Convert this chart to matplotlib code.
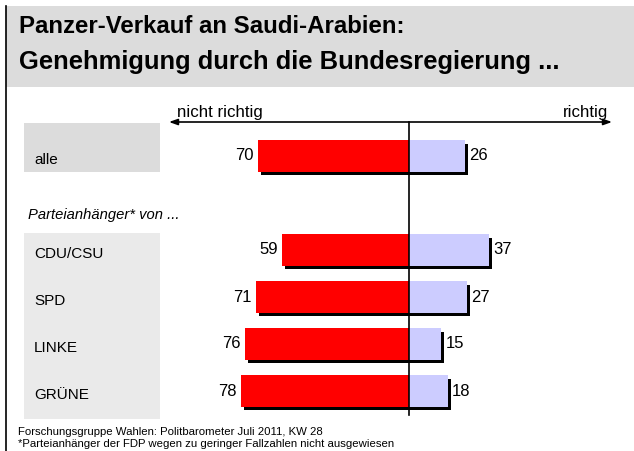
import matplotlib
matplotlib.use("Agg")
import matplotlib.pyplot as plt
import matplotlib.patheffects as pe
import matplotlib.transforms as mtransforms
from matplotlib.patches import Rectangle
from matplotlib.lines import Line2D

# ---- data ----
categories = ["alle", "CDU/CSU", "SPD", "LINKE", "GRÜNE"]
nicht_richtig = [70, 59, 71, 76, 78]
richtig = [26, 37, 27, 15, 18]
row_pos = [0, 2, 3, 4, 5]

title_lines = ["Panzer-Verkauf an Saudi-Arabien:",
               "Genehmigung durch die Bundesregierung ..."]
left_label = "nicht richtig"
right_label = "richtig"
group_label = "Parteianhänger* von ..."
footer_lines = ["Forschungsgruppe Wahlen: Politbarometer Juli 2011, KW 28",
                "*Parteianhänger der FDP wegen zu geringer Fallzahlen nicht ausgewiesen"]

plt.rcParams['font.family'] = ['Liberation Sans', 'DejaVu Sans']

W, H = 634, 451
fig = plt.figure(figsize=(W / 100, H / 100), dpi=100)
fig.patch.set_facecolor("white")


def fx(px):
    return px / W


def fy(py):
    return 1 - py / H


# header
fig.patches.append(Rectangle((fx(6), fy(87)), 1 - fx(6), fy(6) - fy(87),
                             transform=fig.transFigure, facecolor="#DCDCDC",
                             edgecolor="none", zorder=-1))
# left border
fig.lines.append(Line2D([fx(6), fx(6)], [fy(6), 0], transform=fig.transFigure,
                        color="black", lw=1.2))
fig.text(fx(19), fy(33), title_lines[0], fontsize=17.3, fontweight="bold",
         va="baseline", ha="left")
fig.text(fx(19), fy(69), title_lines[1], fontsize=18.4, fontweight="bold",
         va="baseline", ha="left")

# label boxes
fig.patches.append(Rectangle((fx(24), fy(172)), fx(160) - fx(24), fy(123) - fy(172),
                             transform=fig.transFigure, facecolor="#DCDCDC",
                             edgecolor="none", zorder=-1))
fig.patches.append(Rectangle((fx(24), fy(419)), fx(160) - fx(24), fy(233) - fy(419),
                             transform=fig.transFigure, facecolor="#EAEAEA",
                             edgecolor="none", zorder=-1))
fig.text(fx(28), fy(219), group_label, fontsize=10.6, style="italic",
         va="baseline", ha="left")

# axes
ax_left, ax_right, ax_top, ax_bottom = 169, 612, 122, 415
center_px = 409
scale = 2.157
xmin = -(center_px - ax_left) / scale
xmax = (ax_right - center_px) / scale
row0 = 156
step = 47
ytop = (ax_top - row0) / step
ybot = (ax_bottom - row0) / step

ax = fig.add_axes([fx(ax_left), fy(ax_bottom), fx(ax_right) - fx(ax_left),
                   fy(ax_top) - fy(ax_bottom)])
ax.set_xlim(xmin, xmax)
ax.set_ylim(ybot, ytop)
ax.axis("off")
ax.patch.set_alpha(0)

shadow = [pe.SimplePatchShadow(offset=(2.2, -2.2), shadow_rgbFace="black", alpha=1.0),
          pe.Normal()]
bh = 0.66
for y, nv, rv in zip(row_pos, nicht_richtig, richtig):
    b1 = ax.barh(y, -nv, height=bh, color="#FF0000", edgecolor="none", zorder=2)
    for p in b1:
        p.set_path_effects(shadow)
    b2 = ax.barh(y, rv, height=bh, color="#CCCCFF", edgecolor="none", zorder=3)
    for p in b2:
        p.set_path_effects(shadow)
    ax.annotate(str(nv), (-nv, y), xytext=(-3, 0), textcoords="offset points",
                ha="right", va="center", fontsize=12)
    ax.annotate(str(rv), (rv, y), xytext=(3, 0), textcoords="offset points",
                ha="left", va="center", fontsize=12)

label_tr = mtransforms.blended_transform_factory(fig.transFigure, ax.transData)
for y, c in zip(row_pos, categories):
    ax.text(fx(34), y + 0.08, c, transform=label_tr, ha="left", va="center",
            fontsize=11, clip_on=False)

ax.plot([0, 0], [ytop, ybot], color="black", lw=1.2, zorder=5, clip_on=False)
ax.annotate("", xy=(xmin, ytop), xytext=(xmax, ytop),
            arrowprops=dict(arrowstyle="<|-|>,head_length=0.5,head_width=0.18",
                            color="black", lw=1.2, shrinkA=0, shrinkB=0),
            annotation_clip=False)
fig.text(fx(177), fy(117), left_label, fontsize=12.2, va="baseline", ha="left")
fig.text(fx(608), fy(117), right_label, fontsize=12.2, va="baseline", ha="right")

fig.text(fx(18), fy(435), footer_lines[0], fontsize=8.2, va="baseline", ha="left")
fig.text(fx(18), fy(447), footer_lines[1], fontsize=8.2, va="baseline", ha="left")

fig.savefig("out.png", dpi=100)
